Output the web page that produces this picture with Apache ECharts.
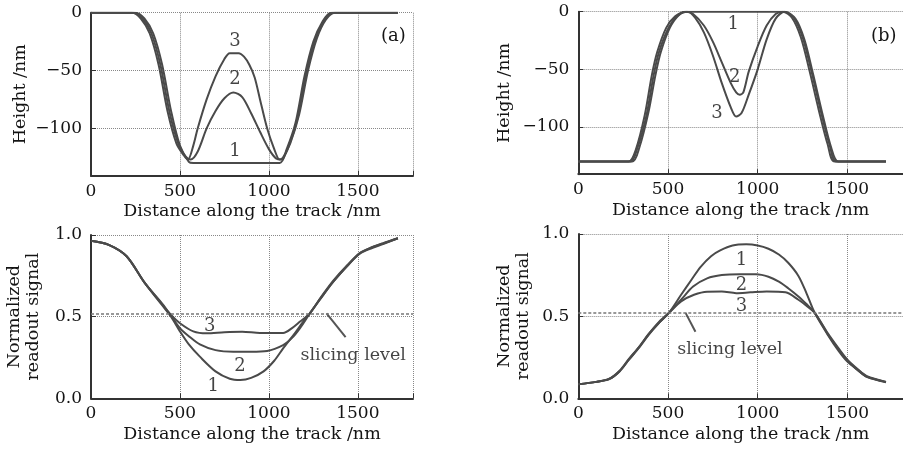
<!DOCTYPE html>
<html>
<head>
<meta charset="utf-8">
<script src="https://cdn.jsdelivr.net/npm/echarts@6/dist/echarts.min.js"></script>
<style>
  html, body { margin: 0; padding: 0; background: #fff; }
  #main { width: 903px; height: 449px; }
</style>
</head>
<body>
<div id="main"></div>
<script>
// (a) top: height profile, curves 1-3
var heightA1 = [[0,0],[100,0],[200,0],[250,0],[300,-5],[350,-18],[400,-45],[450,-85],[500,-115],[550,-129],[575,-130],[800,-130],[1060,-130],[1100,-118],[1150,-95],[1200,-55],[1250,-25],[1300,-8],[1350,0],[1500,0],[1725,0]];
var heightA2 = [[0,0],[240,0],[290,-5],[340,-18],[390,-45],[440,-85],[490,-113],[530,-124],[560,-127],[600,-120],[650,-100],[700,-85],[750,-74],[800,-69],[850,-73],[900,-87],[950,-103],[1000,-118],[1040,-126],[1070,-127],[1110,-116],[1160,-92],[1210,-52],[1260,-23],[1310,-7],[1360,0],[1725,0]];
var heightA3 = [[0,0],[230,0],[280,-5],[330,-18],[380,-45],[430,-85],[480,-113],[520,-123],[545,-127],[575,-115],[600,-100],[650,-75],[700,-55],[750,-40],[780,-35],[830,-35],[860,-38],[890,-45],[920,-56],[950,-75],[990,-100],[1030,-118],[1060,-127],[1080,-125],[1120,-113],[1170,-88],[1220,-50],[1270,-22],[1320,-6],[1370,0],[1725,0]];

// (b) top
var heightB1 = [[0,-130],[290,-130],[330,-118],[380,-90],[420,-55],[450,-35],[500,-15],[550,-4],[600,0],[900,0],[1150,0],[1200,-5],[1250,-22],[1300,-52],[1350,-85],[1400,-115],[1440,-130],[1715,-130]];
var heightB2 = [[0,-130],[280,-130],[320,-120],[370,-90],[410,-55],[440,-35],[490,-14],[540,-4],[600,0],[640,-2],[700,-12],[750,-26],[800,-44],[850,-62],[880,-70],[900,-72],[920,-70],[950,-52],[1000,-30],[1050,-12],[1100,-2],[1140,0],[1190,-5],[1240,-22],[1290,-52],[1340,-85],[1390,-115],[1430,-130],[1715,-130]];
var heightB3 = [[0,-130],[300,-130],[340,-118],[390,-88],[430,-55],[460,-35],[510,-14],[560,-3],[610,0],[650,-5],[700,-18],[750,-38],[800,-62],[850,-83],[880,-91],[910,-88],[950,-72],[1000,-50],[1050,-24],[1100,-6],[1150,0],[1210,-6],[1260,-24],[1310,-55],[1360,-88],[1410,-118],[1450,-130],[1715,-130]];

// (a) bottom: normalized readout signal
var signalA1 = [[0,0.965],[100,0.94],[200,0.87],[300,0.71],[400,0.57],[450,0.5],[500,0.41],[550,0.33],[612,0.255],[700,0.165],[780,0.12],[840,0.112],[900,0.125],[970,0.165],[1030,0.23],[1080,0.306],[1140,0.39],[1193,0.47],[1230,0.52],[1290,0.61],[1362,0.714],[1440,0.81],[1511,0.888],[1580,0.925],[1642,0.95],[1725,0.98]];
var signalA2 = [[0,0.965],[100,0.94],[200,0.87],[300,0.71],[400,0.575],[450,0.505],[500,0.43],[550,0.38],[612,0.33],[700,0.295],[800,0.285],[900,0.285],[990,0.29],[1080,0.326],[1130,0.37],[1175,0.43],[1230,0.52],[1290,0.61],[1362,0.714],[1440,0.81],[1511,0.885],[1580,0.92],[1642,0.945],[1725,0.98]];
var signalA3 = [[0,0.965],[100,0.94],[200,0.87],[300,0.71],[400,0.58],[450,0.51],[500,0.46],[575,0.41],[650,0.398],[750,0.405],[850,0.408],[950,0.4],[1080,0.4],[1130,0.43],[1175,0.47],[1230,0.52],[1290,0.615],[1362,0.72],[1440,0.815],[1511,0.89],[1580,0.925],[1642,0.948],[1725,0.98]];

// (b) bottom
var signalB1 = [[0,0.085],[100,0.1],[173,0.117],[230,0.163],[282,0.235],[340,0.313],[391,0.388],[450,0.46],[505,0.52],[573,0.63],[630,0.72],[682,0.8],[740,0.865],[791,0.9],[860,0.93],[936,0.937],[1000,0.93],[1060,0.91],[1118,0.875],[1170,0.825],[1227,0.745],[1270,0.645],[1318,0.52],[1391,0.386],[1450,0.29],[1500,0.223],[1560,0.17],[1609,0.131],[1715,0.097]];
var signalB2 = [[0,0.085],[100,0.1],[173,0.118],[230,0.165],[282,0.235],[340,0.31],[391,0.385],[450,0.46],[505,0.52],[573,0.6],[640,0.68],[718,0.73],[800,0.75],[900,0.755],[991,0.755],[1060,0.74],[1118,0.71],[1170,0.67],[1227,0.62],[1270,0.575],[1318,0.52],[1391,0.39],[1450,0.3],[1500,0.23],[1560,0.17],[1609,0.13],[1715,0.1]];
var signalB3 = [[0,0.085],[100,0.1],[173,0.12],[230,0.168],[282,0.24],[340,0.315],[391,0.39],[450,0.465],[505,0.52],[573,0.59],[645,0.63],[718,0.649],[800,0.65],[880,0.64],[960,0.645],[1050,0.65],[1155,0.645],[1227,0.6],[1270,0.565],[1318,0.52],[1391,0.395],[1450,0.305],[1500,0.235],[1560,0.175],[1609,0.135],[1715,0.1]];

var slicingLevel = 0.52;

// curve number labels [x, y, text]
var labelsA = [[809,-25,'3'],[809,-58,'2'],[809,-120,'1']];
var labelsB = [[864,-11,'1'],[872,-57,'2'],[773,-88,'3']];
var labelsC = [[668,0.438,'3'],[837,0.194,'2'],[687,0.071,'1']];
var labelsD = [[909,0.84,'1'],[909,0.69,'2'],[909,0.557,'3']];
var slicingTextC = [[1474,0.265,'slicing level']];
var slicingTextD = [[845,0.298,'slicing level']];
var pointerC = [[1324,0.52],[1431,0.374]];
var pointerD = [[598,0.52],[653,0.405]];

var xRange = { min: 0, max: 1810 };
var xTickValues = [0, 500, 1000, 1500, 1810];
var heightRange = { min: -141, max: 0 };
var heightTicks = [-100, -50, 0];
var signalRange = { min: 0, max: 1 };
var signalTicks = [0, 0.5, 1];

var FONT = 'DejaVu Serif';
var INK = '#141414';
var CURVE = '#4a4a4a';

function xAxisFor(gi) {
  return {
    type: 'value', gridIndex: gi,
    min: xRange.min, max: xRange.max,
    name: 'Distance along the track /nm', nameLocation: 'middle', nameGap: 27,
    nameTextStyle: { fontFamily: FONT, fontSize: 17.5, color: INK },
    axisLine: { show: true, onZero: false, lineStyle: { color: '#333', width: 2 } },
    axisTick: { show: true, inside: true, length: 5, lineStyle: { color: '#333' }, customValues: xTickValues },
    axisLabel: { fontFamily: FONT, fontSize: 17, color: INK, margin: 7,
      customValues: xTickValues.slice(0, 4), formatter: function (v) { return String(v); } },
    splitLine: { show: true, lineStyle: { color: '#888', type: [1, 1], width: 1 } }
  };
}
function yAxisFor(gi, range, ticks, name, gap, fmt) {
  return {
    type: 'value', gridIndex: gi,
    min: range.min, max: range.max,
    name: name, nameLocation: 'middle', nameGap: gap,
    nameTextStyle: { fontFamily: FONT, fontSize: 17.5, color: INK, lineHeight: 19 },
    axisLine: { show: true, onZero: false, lineStyle: { color: '#333', width: 2 } },
    axisTick: { show: true, inside: true, length: 5, lineStyle: { color: '#333' }, customValues: ticks },
    axisLabel: { fontFamily: FONT, fontSize: 17, color: INK, margin: 9, formatter: fmt, customValues: ticks },
    splitLine: { show: true, lineStyle: { color: '#888', type: [1, 1], width: 1 } }
  };
}
function minusFmt(v) { return v < 0 ? '\u2212' + Math.abs(v) : String(v); }
function decFmt(v) { return Number(v).toFixed(1); }

function curve(data, gi) {
  return {
    type: 'line', xAxisIndex: gi, yAxisIndex: gi, data: data,
    showSymbol: false, smooth: 0.3, silent: true,
    lineStyle: { color: CURVE, width: 2 }
  };
}
function texts(data, gi, size) {
  return {
    type: 'scatter', xAxisIndex: gi, yAxisIndex: gi, data: data,
    symbolSize: 0, silent: true,
    label: { show: true, position: 'inside', formatter: function (p) { return p.value[2]; },
      fontFamily: FONT, fontSize: size, color: INK }
  };
}
function pointer(data, gi) {
  return {
    type: 'line', xAxisIndex: gi, yAxisIndex: gi, data: data,
    showSymbol: false, silent: true, lineStyle: { color: '#555', width: 2 }
  };
}
function slicing(gi) {
  return {
    type: 'line', xAxisIndex: gi, yAxisIndex: gi, data: [],
    markLine: { silent: true, symbol: 'none', label: { show: false },
      lineStyle: { color: '#777', type: [3, 2], width: 1.5 },
      data: [{ yAxis: slicingLevel }] }
  };
}

var chart = echarts.init(document.getElementById('main'), null, { renderer: 'canvas' });
chart.setOption({
  animation: false,
  backgroundColor: '#fff',
  title: [
    { text: '(a)', left: 376, top: 22, textStyle: { fontFamily: FONT, fontSize: 18, fontWeight: 'normal', color: INK } },
    { text: '(b)', left: 866, top: 22, textStyle: { fontFamily: FONT, fontSize: 18, fontWeight: 'normal', color: INK } }
  ],
  grid: [
    { left: 91, top: 12.7, width: 322, height: 163 },
    { left: 578.3, top: 11.7, width: 332, height: 162.5 },
    { left: 91, top: 235, width: 322, height: 163.3 },
    { left: 578.3, top: 234, width: 332, height: 164.3 }
  ],
  xAxis: [xAxisFor(0), xAxisFor(1), xAxisFor(2), xAxisFor(3)],
  yAxis: [
    yAxisFor(0, heightRange, heightTicks, 'Height /nm', 61, minusFmt),
    yAxisFor(1, heightRange, heightTicks, 'Height /nm', 64, minusFmt),
    yAxisFor(2, signalRange, signalTicks, 'Normalized\nreadout signal', 48, decFmt),
    yAxisFor(3, signalRange, signalTicks, 'Normalized\nreadout signal', 45, decFmt)
  ],
  series: [
    curve(heightA1, 0), curve(heightA2, 0), curve(heightA3, 0), texts(labelsA, 0, 18),
    curve(heightB1, 1), curve(heightB2, 1), curve(heightB3, 1), texts(labelsB, 1, 18),
    slicing(2), curve(signalA1, 2), curve(signalA2, 2), curve(signalA3, 2),
    texts(labelsC, 2, 18), texts(slicingTextC, 2, 17.5), pointer(pointerC, 2),
    slicing(3), curve(signalB1, 3), curve(signalB2, 3), curve(signalB3, 3),
    texts(labelsD, 3, 18), texts(slicingTextD, 3, 17.5), pointer(pointerD, 3)
  ]
});
</script>
</body>
</html>
